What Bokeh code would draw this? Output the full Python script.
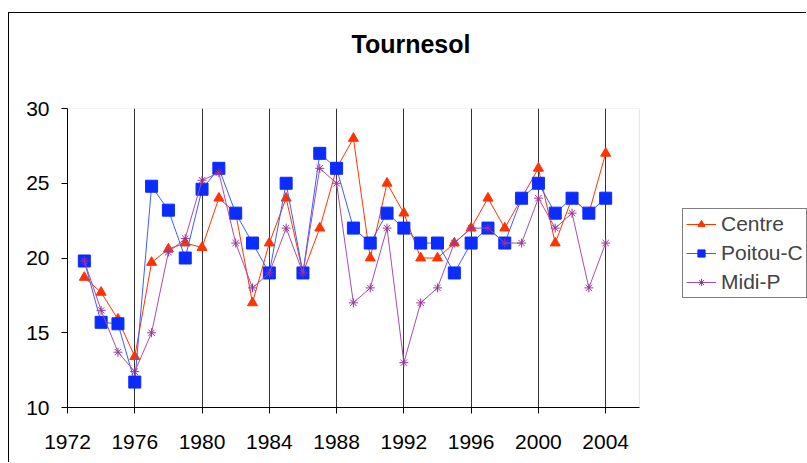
from bokeh.plotting import figure
from bokeh.models import FixedTicker, Legend, LegendItem, Title, BoxAnnotation
from bokeh.embed import file_html
from bokeh.resources import INLINE

years = list(range(1973, 2005))
centre = [18.7, 17.7, 15.9, 13.4, 19.7, 20.6, 21.0, 20.7, 24.0, 23.0, 17.0, 21.0,
          24.0, 19.0, 22.0, 26.0, 28.0, 20.0, 25.0, 23.0, 20.0, 20.0, 21.0, 22.0,
          24.0, 22.0, 24.0, 26.0, 21.0, 24.0, 23.0, 27.0]
poitou = [19.8, 15.7, 15.6, 11.7, 24.8, 23.2, 20.0, 24.6, 26.0, 23.0, 21.0, 19.0,
          25.0, 19.0, 27.0, 26.0, 22.0, 21.0, 23.0, 22.0, 21.0, 21.0, 19.0, 21.0,
          22.0, 21.0, 24.0, 25.0, 23.0, 24.0, 23.0, 24.0]
midi = [19.8, 16.5, 13.7, 12.4, 15.0, 20.4, 21.3, 25.2, 25.7, 21.0, 18.0, 19.0,
        22.0, 19.0, 26.0, 25.0, 17.0, 18.0, 22.0, 13.0, 17.0, 18.0, 21.0, 22.0,
        22.0, 21.0, 21.0, 24.0, 22.0, 23.0, 18.0, 21.0]
x_ticks = list(range(1972, 2005, 4))
y_ticks = [10, 15, 20, 25, 30]

X_START, X_END = 1972, 2006      # plot-area extent
Y_START, Y_END = 10, 30
X_CANVAS_END = 2016              # canvas extends right of the plot area for the legend

FONT = "Liberation Sans"

p = figure(width=798, height=450, x_range=(X_START, X_CANVAS_END),
           y_range=(Y_START, Y_END),
           output_backend="svg", toolbar_location=None,
           min_border_left=58, min_border_right=0, min_border_top=95,
           min_border_bottom=56, title="Tournesol")
p.styles = {"border-left": "1px solid black", "border-top": "1px solid black",
            "margin-left": "8px", "margin-top": "12px"}

# spacer between the title and the plot area
p.add_layout(Title(text=" ", text_font_size="10px", standoff=26), "above")

p.title.align = "left"
p.title.offset = 284
p.title.text_font = FONT
p.title.text_font_size = "25px"
p.title.text_font_style = "bold"
p.title.text_color = "black"
p.title.vertical_align = "bottom"
p.title.standoff = 24

p.outline_line_color = None
p.background_fill_color = "white"
p.border_fill_color = "white"

# plot-area border
area = BoxAnnotation(left=X_START, right=X_END, bottom=Y_START, top=Y_END,
                     fill_alpha=0, line_color="#a6a6a6", line_width=1,
                     level="underlay")
p.add_layout(area)

p.ygrid.visible = False
p.xgrid.ticker = FixedTicker(ticks=x_ticks)
p.xgrid.grid_line_color = "#333333"
p.xgrid.grid_line_width = 1

for ax in (p.xaxis, p.yaxis):
    ax.axis_line_color = "black"
    ax.major_tick_line_color = "black"
    ax.major_tick_out = 6
    ax.major_tick_in = 0
    ax.minor_tick_line_color = None
    ax.major_label_text_font = FONT
    ax.major_label_text_font_size = "21px"
    ax.major_label_text_color = "black"
p.xaxis.ticker = FixedTicker(ticks=x_ticks)
p.xaxis.bounds = (X_START, X_END)
p.yaxis.ticker = FixedTicker(ticks=y_ticks)
p.xaxis.major_label_standoff = 21
p.yaxis.major_label_standoff = 12

c_line = p.line(years, centre, line_color="#ff3300", line_width=1)
c_mark = p.scatter(years, centre, marker="triangle", size=10,
                   fill_color="#ff3300", line_color="#ff3300")
b_line = p.line(years, poitou, line_color="#3d5cff", line_width=1)
b_mark = p.scatter(years, poitou, marker="square", size=12,
                   fill_color="#0a2cff", line_color="#0a2cff")
m_line = p.line(years, midi, line_color="#a64dad", line_width=1)
m_mark = p.scatter(years, midi, marker="asterisk", size=9,
                   line_color="#993399", line_width=1)

legend = Legend(items=[
    LegendItem(label="Centre", renderers=[c_line, c_mark]),
    LegendItem(label="Poitou-C", renderers=[b_line, b_mark]),
    LegendItem(label="Midi-P", renderers=[m_line, m_mark]),
], location=(615, 109), margin=0, padding=3, spacing=5,
    glyph_width=30, glyph_height=18, label_height=18, label_standoff=5,
    label_text_font=FONT, label_text_font_size="21px",
    border_line_color="black", border_line_width=1,
    background_fill_color="white")
p.add_layout(legend, "center")

open("out.html", "w").write(file_html(p, INLINE))
